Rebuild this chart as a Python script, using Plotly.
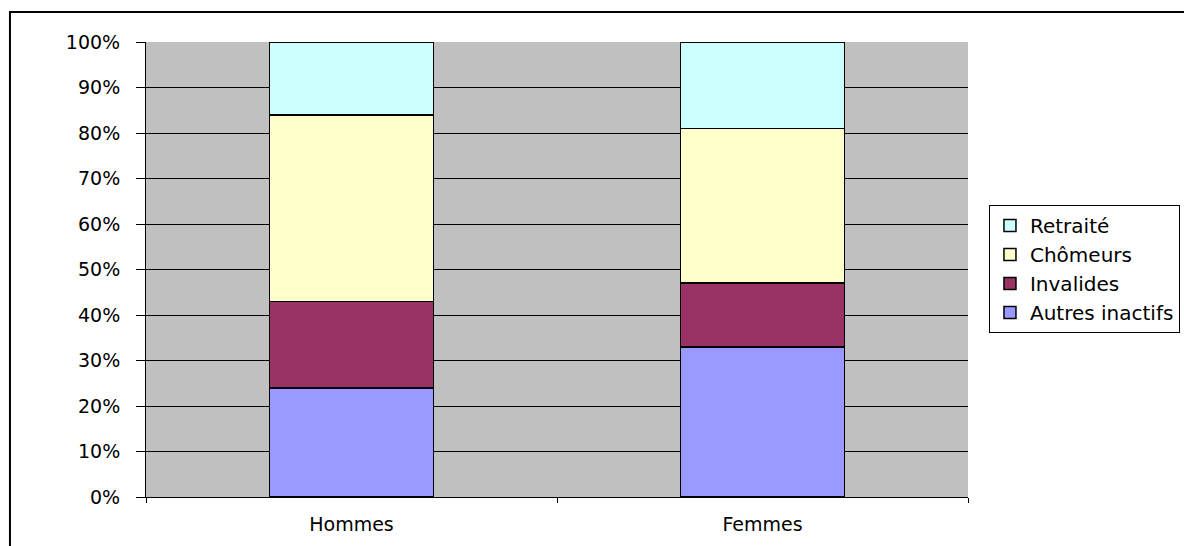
import plotly.graph_objects as go

# Répartition des inactifs par sexe (parts en %)
categories = ["Hommes", "Femmes"]
autres_inactifs = [24, 33]
invalides = [19, 14]
chomeurs = [41, 34]
retraite = [16, 19]

series = [
    ("Autres inactifs", autres_inactifs, "#9999FF"),
    ("Invalides", invalides, "#993366"),
    ("Chômeurs", chomeurs, "#FFFFCC"),
    ("Retraité", retraite, "#CCFFFF"),
]

FONT = "DejaVu Sans"

fig = go.Figure()
for name, vals, color in series:
    fig.add_trace(go.Bar(
        x=categories, y=vals, name=name,
        marker=dict(color=color, line=dict(color="black", width=1.5)),
        width=0.4,
    ))

# outer chart frame
fig.add_shape(type="rect", xref="paper", yref="paper",
              x0=-0.1655, x1=1.4, y0=-0.3, y1=1.0659,
              line=dict(color="black", width=2), fillcolor="rgba(0,0,0,0)",
              layer="above")

fig.update_layout(
    width=1184, height=546,
    margin=dict(l=146, r=216, t=42, b=49, autoexpand=False),
    barmode="stack",
    plot_bgcolor="#C0C0C0",
    paper_bgcolor="white",
    font=dict(family=FONT, size=19, color="black"),
    showlegend=True,
    legend=dict(
        x=1.0255, y=0.642, xanchor="left", yanchor="top",
        traceorder="reversed",
        bordercolor="black", borderwidth=1, bgcolor="white",
        font=dict(family=FONT, size=20, color="black"),
        itemwidth=30,
    ),
    xaxis=dict(
        type="category", showgrid=False, showline=True, linecolor="black", linewidth=1,
        ticks="outside", tickson="boundaries", ticklen=5, tickcolor="black",
        ticklabelstandoff=10,
        tickfont=dict(family=FONT, size=19),
    ),
    yaxis=dict(
        range=[0, 100], dtick=10, ticksuffix="%",
        showgrid=True, gridcolor="black", gridwidth=1, zeroline=False,
        showline=True, linecolor="black", linewidth=1,
        ticks="outside", ticklen=9, tickcolor="black",
        ticklabelstandoff=12,
        tickfont=dict(family=FONT, size=19),
    ),
)

fig.write_html("out.html")
